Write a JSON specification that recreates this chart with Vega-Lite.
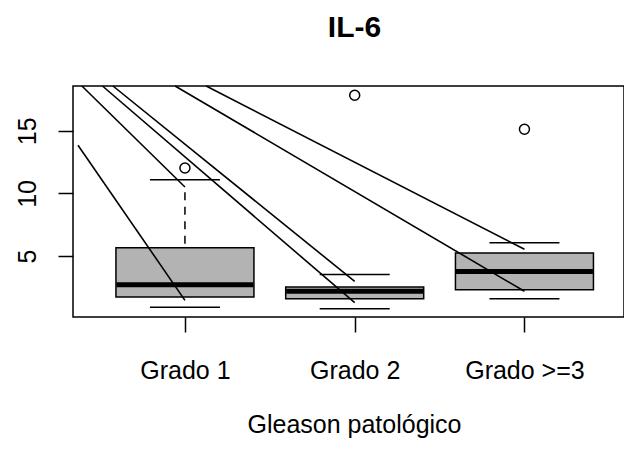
{
  "$schema": "https://vega.github.io/schema/vega-lite/v6.json",
  "width": 551,
  "height": 231,
  "autosize": {"type": "none"},
  "padding": {"left": 73, "top": 86, "right": 0, "bottom": 134},
  "background": "white",
  "title": {"text": "IL-6", "fontSize": 30, "fontWeight": "bold", "font": "Liberation Sans", "color": "black", "anchor": "middle", "frame": "group", "baseline": "alphabetic", "offset": 18, "dx": 6},
  "config": {"view": {"stroke": "black", "strokeWidth": 1.5}, "font": "Liberation Sans"},
  "datasets": {
    "boxes": [
      {"g": 1, "lower": 0.91, "q1": 1.73, "median": 2.72, "q3": 5.67, "upper": 11.1},
      {"g": 2, "lower": 0.8, "q1": 1.6, "median": 2.19, "q3": 2.53, "upper": 3.54},
      {"g": 3, "lower": 1.6, "q1": 2.32, "median": 3.78, "q3": 5.24, "upper": 6.07}
    ],
    "outliers": [
      {"g": 1, "v": 12.03},
      {"g": 2, "v": 17.83},
      {"g": 3, "v": 15.12}
    ],
    "lines": [
      {"x": 0.37, "y": 13.84, "x2": 1, "y2": 1.47},
      {"x": 0.393, "y": 18.57, "x2": 1, "y2": 10.51},
      {"x": 0.514, "y": 18.57, "x2": 2, "y2": 1.28},
      {"x": 0.576, "y": 18.57, "x2": 2, "y2": 2.98},
      {"x": 0.942, "y": 18.57, "x2": 3, "y2": 2.19},
      {"x": 1.125, "y": 18.57, "x2": 3, "y2": 5.54}
    ]
  },
  "layer": [
    {
      "data": {"name": "boxes"},
      "mark": {"type": "rule", "color": "black", "strokeWidth": 1.5, "strokeDash": [0, 12.5, 8, 6.5, 8, 6.5, 8, 6.5, 8, 6.5]},
      "encoding": {
        "x": {"field": "g", "type": "quantitative", "scale": {"domain": [0.37, 3.557], "nice": false, "zero": false},
          "axis": {"values": [1, 2, 3], "labelExpr": "datum.value == 1 ? 'Grado 1' : datum.value == 2 ? 'Grado 2' : 'Grado >=3'", "title": "Gleason patológico", "grid": false, "domain": false, "tickSize": 15, "tickColor": "black", "tickWidth": 1.5, "labelFontSize": 25, "labelColor": "black", "labelBaseline": "alphabetic", "labelPadding": 46, "labelFlush": false, "labelOverlap": false, "titleFontSize": 25, "titleFontWeight": "normal", "titleColor": "black", "titleX": 281, "titleY": 115, "titleBaseline": "alphabetic", "titleAlign": "center"}},
        "y": {"field": "upper", "type": "quantitative", "scale": {"domain": [0.14, 18.57], "nice": false, "zero": false},
          "axis": {"values": [5, 10, 15], "title": null, "grid": false, "domain": false, "tickSize": 15, "tickColor": "black", "tickWidth": 1.5, "labelFontSize": 25, "labelColor": "black", "labelAngle": 270, "labelAlign": "center", "labelBaseline": "alphabetic", "labelPadding": 23, "labelOverlap": false}},
        "y2": {"field": "q3"}
      }
    },
    {
      "data": {"name": "boxes"},
      "mark": {"type": "rule", "color": "black", "strokeWidth": 1.5, "strokeDash": [0, 12.5, 8, 6.5, 8, 6.5, 8, 6.5, 8, 6.5]},
      "encoding": {
        "x": {"field": "g", "type": "quantitative"},
        "y": {"field": "lower", "type": "quantitative"},
        "y2": {"field": "q1"}
      }
    },
    {
      "data": {"name": "boxes"},
      "mark": {"type": "tick", "orient": "horizontal", "color": "black", "size": 70, "thickness": 1.5, "opacity": 1},
      "encoding": {
        "x": {"field": "g", "type": "quantitative"},
        "y": {"field": "upper", "type": "quantitative"}
      }
    },
    {
      "data": {"name": "boxes"},
      "mark": {"type": "tick", "orient": "horizontal", "color": "black", "size": 70, "thickness": 1.5, "opacity": 1},
      "encoding": {
        "x": {"field": "g", "type": "quantitative"},
        "y": {"field": "lower", "type": "quantitative"}
      }
    },
    {
      "data": {"name": "boxes"},
      "mark": {"type": "bar", "size": 138, "fill": "#b3b3b3", "stroke": "black", "strokeWidth": 1.5, "opacity": 1},
      "encoding": {
        "x": {"field": "g", "type": "quantitative"},
        "y": {"field": "q1", "type": "quantitative"},
        "y2": {"field": "q3"}
      }
    },
    {
      "data": {"name": "boxes"},
      "mark": {"type": "tick", "orient": "horizontal", "color": "black", "size": 137, "thickness": 5, "opacity": 1},
      "encoding": {
        "x": {"field": "g", "type": "quantitative"},
        "y": {"field": "median", "type": "quantitative"}
      }
    },
    {
      "data": {"name": "outliers"},
      "mark": {"type": "point", "shape": "circle", "size": 100, "filled": false, "stroke": "black", "strokeWidth": 1.5, "opacity": 1},
      "encoding": {
        "x": {"field": "g", "type": "quantitative"},
        "y": {"field": "v", "type": "quantitative"}
      }
    },
    {
      "data": {"name": "lines"},
      "mark": {"type": "rule", "color": "black", "strokeWidth": 1.6},
      "encoding": {
        "x": {"field": "x", "type": "quantitative"},
        "y": {"field": "y", "type": "quantitative"},
        "x2": {"field": "x2"},
        "y2": {"field": "y2"}
      }
    }
  ]
}
